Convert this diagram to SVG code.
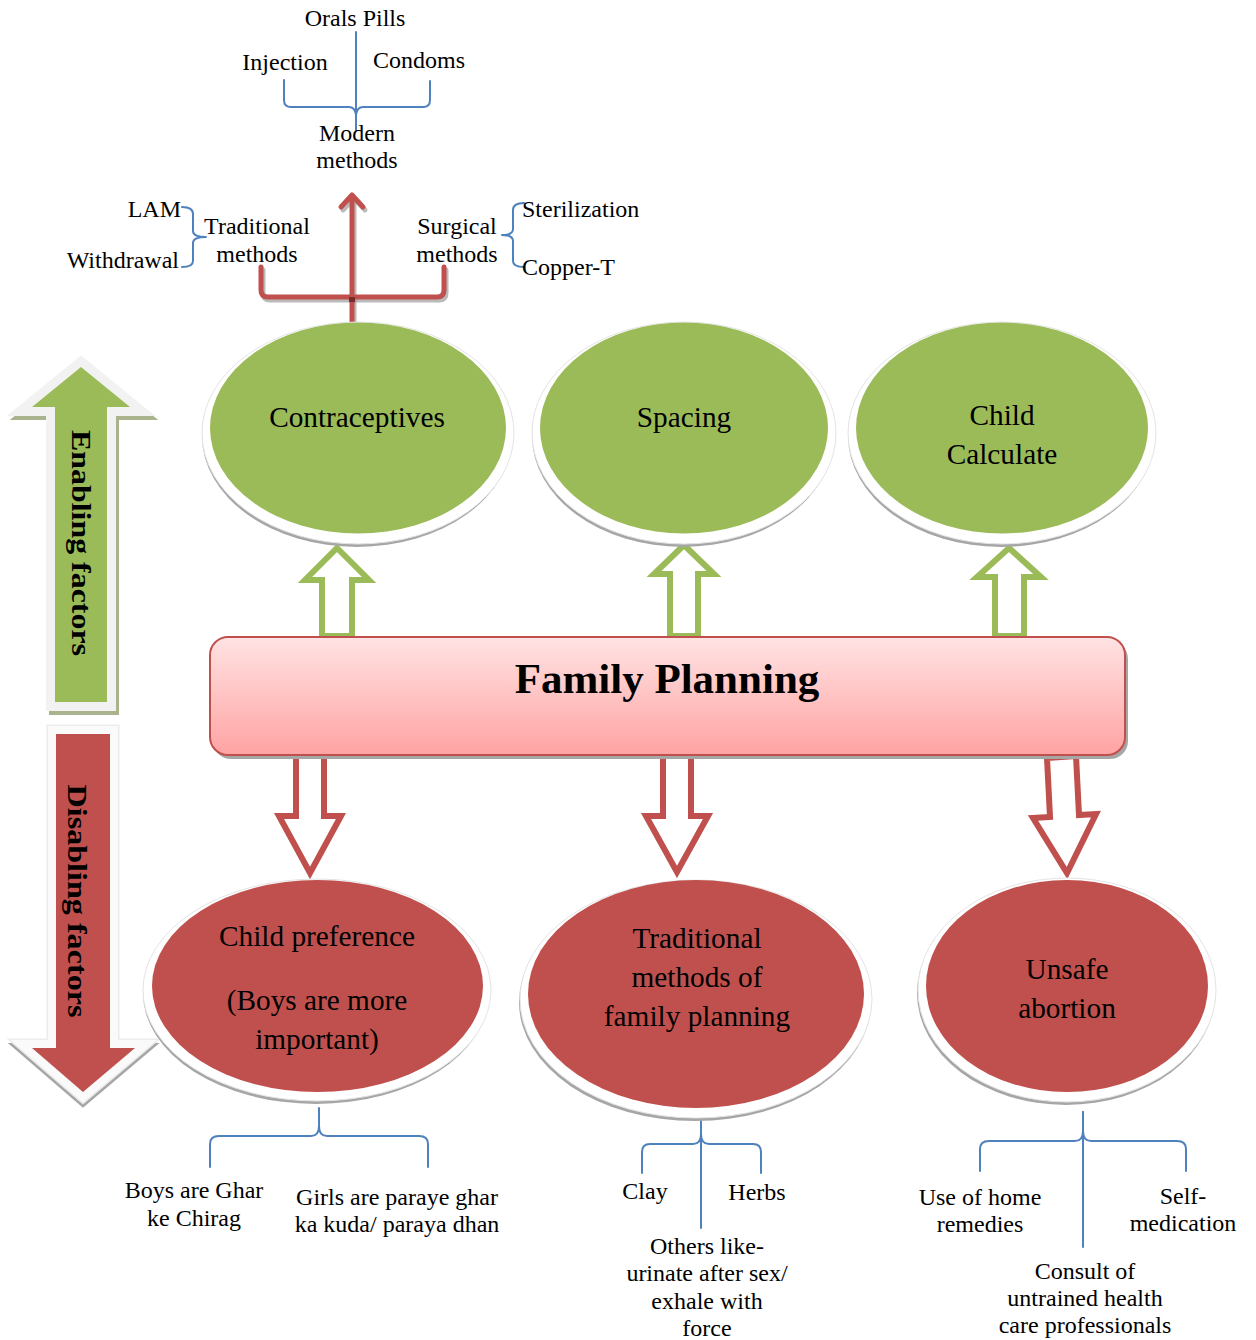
<svg xmlns="http://www.w3.org/2000/svg" width="1256" height="1340" viewBox="0 0 1256 1340">
<defs>
<linearGradient id="boxGrad" x1="0" y1="0" x2="0" y2="1">
<stop offset="0" stop-color="#ffe3e3"/>
<stop offset="1" stop-color="#ffa3a3"/>
</linearGradient>
</defs>
<style>
text{font-family:"Liberation Serif","Times New Roman",serif;fill:#000}
.s{font-size:24px}
.e{font-size:29.3px}
.mid{text-anchor:middle}
.brace{fill:none;stroke:#4f81bd;stroke-width:2;stroke-linejoin:round;stroke-linecap:round}
.sh{fill:#a6a6a6}
.ring{fill:#fff;stroke:#e4e4e4;stroke-width:1}
.green{fill:#9bbb59}
.red{fill:#c0504d}
.upA{fill:#fff;stroke:#9bbb59;stroke-width:6;stroke-linejoin:miter}
.dnA{fill:#fff;stroke:#c0504d;stroke-width:6;stroke-linejoin:miter}
.rl{fill:none;stroke:#c0504d;stroke-width:5;stroke-linejoin:round;stroke-linecap:round}
.rls{fill:none;stroke:#8c8c8c;stroke-opacity:0.6;stroke-width:5;stroke-linejoin:round;stroke-linecap:round}
.big{font-weight:bold}
</style>

<!-- Left side arrows -->
<g id="enabling-arrow">
<polygon points="81,367 130,407 107,407 107,702 55,702 55,407 32,407" transform="translate(3,4)" fill="#a9b48e" stroke="#a9b48e" stroke-width="18" stroke-linejoin="miter"/>
<polygon points="81,367 130,407 107,407 107,702 55,702 55,407 32,407" fill="#f2f2f2" stroke="#f2f2f2" stroke-width="18" stroke-linejoin="miter"/>
<polygon points="81,367 130,407 107,407 107,702 55,702 55,407 32,407" class="green"/>
<text class="big" x="72" y="543" font-size="28" text-anchor="middle" textLength="226" lengthAdjust="spacingAndGlyphs" transform="rotate(90 72 543)">Enabling factors</text>
</g>
<g id="disabling-arrow">
<polygon points="56,734 110,734 110,1048 135,1048 83,1092 32,1048 56,1048" transform="translate(0,4)" fill="#a6a6a6" stroke="#a6a6a6" stroke-width="18" stroke-linejoin="miter"/>
<polygon points="56,734 110,734 110,1048 135,1048 83,1092 32,1048 56,1048" fill="#fafafa" stroke="#ececec" stroke-width="19" stroke-linejoin="miter"/>
<polygon points="56,734 110,734 110,1048 135,1048 83,1092 32,1048 56,1048" fill="#fafafa" stroke="#fafafa" stroke-width="16" stroke-linejoin="miter"/>
<polygon points="56,734 110,734 110,1048 135,1048 83,1092 32,1048 56,1048" class="red"/>
<text class="big" x="68" y="901" font-size="28" text-anchor="middle" textLength="233" lengthAdjust="spacingAndGlyphs" transform="rotate(90 68 901)">Disabling factors</text>
</g>

<!-- Connectors -->
<g id="connectors">
<g transform="translate(2,3)">
<path class="rls" d="M352,330 L352,196"/>
<path class="rls" d="M341,207 L352,195 L363,207"/>
<path class="rls" d="M261,267 L261,290 Q261,297 268,297 L437,297 Q444,297 444,290 L444,267"/>
</g>
<path class="rl" d="M352,330 L352,196"/>
<path class="rl" d="M341,207 L352,195 L363,207"/>
<path class="rl" d="M261,267 L261,290 Q261,297 268,297 L437,297 Q444,297 444,290 L444,267"/>
<rect x="349" y="297" width="6" height="5" fill="#7a2c2a"/>

<path class="brace" d="M284,80 L284,100 Q284,107 291,107 L349,107 Q355,107 356,115 Q357,107 363,107 L423,107 Q430,107 430,100 L430,81"/>
<path class="brace" d="M356,32 L356,130"/>
<path class="brace" d="M182,207 Q193,207 193,214 L193,231 Q193,237 206,237 Q193,237 193,243 L193,261 Q193,267 182,267"/>
<path class="brace" d="M524,203 Q513,203 513,210 L513,229 Q513,235 502,235 Q513,235 513,241 L513,261 Q513,267 524,267"/>

<polygon class="upA" points="337,548 369,580 352,580 352,636 322,636 322,580 305,580"/>
<polygon class="upA" points="684,545 714,574 698,574 698,636 670,636 670,574 654,574"/>
<polygon class="upA" points="1009,548 1041,577 1024,577 1024,636 995,636 995,577 977,577"/>

<polygon class="dnA" points="296,756 324,756 324,816 341,816 310,873 279,816 296,816"/>
<polygon class="dnA" points="663,756 691,756 691,816 708,816 677,872 646,816 663,816"/>
<polygon class="dnA" points="1047,758 1076,756 1079,815 1096,814 1067,873 1033,818 1050,817"/>

<path class="brace" d="M210,1167 L210,1144 Q210,1136 219,1136 L311,1136 Q319,1136 319,1126 L319,1108 M319,1126 Q319,1136 327,1136 L419,1136 Q428,1136 428,1144 L428,1167"/>
<path class="brace" d="M642,1173 L642,1152 Q642,1144 650,1144 L693,1144 Q701,1144 701,1134 L701,1117 M701,1134 Q701,1144 709,1144 L753,1144 Q761,1144 761,1152 L761,1173"/>
<path class="brace" d="M701,1117 L701,1228"/>
<path class="brace" d="M980,1171 L980,1149 Q980,1141 989,1141 L1075,1141 Q1083,1141 1083,1131 L1083,1112 M1083,1131 Q1083,1141 1091,1141 L1177,1141 Q1186,1141 1186,1149 L1186,1171"/>
<path class="brace" d="M1083,1112 L1083,1247"/>
</g>

<g id="family-planning">
<rect x="213" y="641" width="915" height="118" rx="18" fill="#a6a6a6"/>
<rect x="210" y="637" width="915" height="118" rx="18" fill="url(#boxGrad)" stroke="#c0504d" stroke-width="2"/>
<text class="big mid" x="667" y="693" font-size="43">Family Planning</text>
</g>

<g id="contraceptives">
<ellipse class="sh" cx="357" cy="436" rx="155" ry="111"/>
<ellipse class="ring" cx="358" cy="433" rx="156" ry="111"/>
<ellipse class="green" cx="358" cy="428" rx="148" ry="105.5"/>
<text class="e mid" x="357" y="427">Contraceptives</text>
</g>
<g id="spacing">
<ellipse class="sh" cx="683" cy="436" rx="151" ry="111"/>
<ellipse class="ring" cx="684" cy="433" rx="152" ry="111"/>
<ellipse class="green" cx="684" cy="428" rx="144" ry="105.5"/>
<text class="e mid" x="684" y="427">Spacing</text>
</g>
<g id="child-calculate">
<ellipse class="sh" cx="1001" cy="436" rx="153" ry="111"/>
<ellipse class="ring" cx="1002" cy="433" rx="154" ry="111"/>
<ellipse class="green" cx="1002" cy="428" rx="146" ry="105.5"/>
<text class="e mid" x="1002" y="425">Child</text>
<text class="e mid" x="1002" y="464">Calculate</text>
</g>

<g id="child-preference">
<ellipse class="sh" cx="316" cy="993" rx="173" ry="111"/>
<ellipse class="ring" cx="317" cy="990" rx="174" ry="111"/>
<ellipse class="red" cx="317.5" cy="986" rx="165.5" ry="106"/>
<text class="e mid" x="317" y="946">Child preference</text>
<text class="e mid" x="317" y="1010">(Boys are more</text>
<text class="e mid" x="317" y="1049">important)</text>
</g>
<g id="traditional-methods">
<ellipse class="sh" cx="695" cy="1002" rx="176" ry="119"/>
<ellipse class="ring" cx="696" cy="999" rx="176" ry="119"/>
<ellipse class="red" cx="696" cy="994" rx="168" ry="114"/>
<text class="e mid" x="697" y="948">Traditional</text>
<text class="e mid" x="697" y="987">methods of</text>
<text class="e mid" x="697" y="1026">family planning</text>
</g>
<g id="unsafe-abortion">
<ellipse class="sh" cx="1066" cy="993" rx="149" ry="112"/>
<ellipse class="ring" cx="1067" cy="990" rx="149" ry="112"/>
<ellipse class="red" cx="1067" cy="986" rx="141" ry="106"/>
<text class="e mid" x="1067" y="979">Unsafe</text>
<text class="e mid" x="1067" y="1018">abortion</text>
</g>

<g id="modern-methods">
<text class="s mid" x="355" y="26">Orals Pills</text>
<text class="s mid" x="285" y="70">Injection</text>
<text class="s mid" x="419" y="68">Condoms</text>
<text class="s mid" x="357" y="141">Modern</text>
<text class="s mid" x="357" y="168">methods</text>
</g>
<g id="traditional-methods-top">
<text class="s" x="181" y="217" text-anchor="end">LAM</text>
<text class="s" x="179" y="268" text-anchor="end">Withdrawal</text>
<text class="s mid" x="257" y="234">Traditional</text>
<text class="s mid" x="257" y="262">methods</text>
</g>
<g id="surgical-methods">
<text class="s mid" x="457" y="234">Surgical</text>
<text class="s mid" x="457" y="262">methods</text>
<text class="s" x="522" y="217">Sterilization</text>
<text class="s" x="522" y="275">Copper-T</text>
</g>

<g id="child-preference-labels">
<text class="s mid" x="194" y="1198">Boys are Ghar</text>
<text class="s mid" x="194" y="1226">ke Chirag</text>
<text class="s mid" x="397" y="1205">Girls are paraye ghar</text>
<text class="s mid" x="397" y="1232">ka kuda/ paraya dhan</text>
</g>
<g id="traditional-labels">
<text class="s mid" x="645" y="1199">Clay</text>
<text class="s mid" x="757" y="1200">Herbs</text>
<text class="s mid" x="707" y="1254">Others like-</text>
<text class="s mid" x="707" y="1281">urinate after sex/</text>
<text class="s mid" x="707" y="1309">exhale with</text>
<text class="s mid" x="707" y="1336">force</text>
</g>
<g id="unsafe-labels">
<text class="s mid" x="980" y="1205">Use of home</text>
<text class="s mid" x="980" y="1232">remedies</text>
<text class="s mid" x="1183" y="1204">Self-</text>
<text class="s mid" x="1183" y="1231">medication</text>
<text class="s mid" x="1085" y="1279">Consult of</text>
<text class="s mid" x="1085" y="1306">untrained health</text>
<text class="s mid" x="1085" y="1333">care professionals</text>
</g>
</svg>
